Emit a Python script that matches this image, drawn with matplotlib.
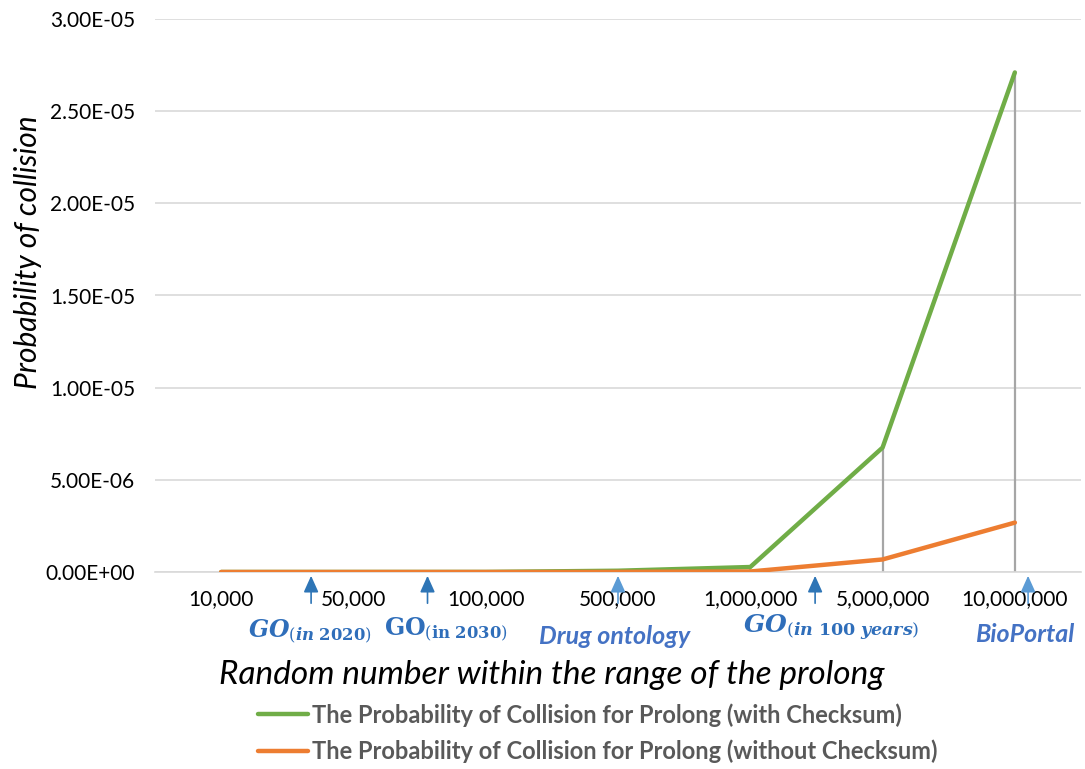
import matplotlib
matplotlib.use("Agg")
import matplotlib.pyplot as plt
from matplotlib.transforms import blended_transform_factory

categories = ["10,000", "50,000", "100,000", "500,000", "1,000,000", "5,000,000", "10,000,000"]
with_checksum = [2.7e-11, 6.8e-10, 2.7e-9, 6.8e-8, 2.7e-7, 6.75e-6, 2.71e-5]
without_checksum = [2.7e-12, 6.8e-11, 2.7e-10, 6.8e-9, 2.7e-8, 6.8e-7, 2.68e-6]
yticks = [0, 5e-6, 1e-5, 1.5e-5, 2e-5, 2.5e-5, 3e-5]
ytick_labels = ["0.00E+00", "5.00E-06", "1.00E-05", "1.50E-05", "2.00E-05", "2.50E-05", "3.00E-05"]

# annotation labels (x in category-index units)
ann_x = [0.68, 1.56, 3.0, 4.49, 6.1]
ann_labels = [
    r"$\mathbfit{GO}_{(\mathbfit{in}\ \mathbf{2020})}$",
    r"$\mathbf{GO}_{(\mathbf{in\ 2030})}$",
    "Drug ontology",
    r"$\mathbfit{GO}_{(\mathbfit{in}\ \mathbf{100}\ \mathbfit{years})}$",
    "BioPortal",
]

plt.rcParams["font.family"] = ["Lato", "DejaVu Sans"]
plt.rcParams["mathtext.fontset"] = "dejavuserif"

W, H = 1085, 769
fig = plt.figure(figsize=(W / 100, H / 100), dpi=100)
ax = fig.add_axes([155 / W, (H - 572) / H, 926 / W, 553 / H])

x = list(range(len(categories)))
# drop lines
for xi, a, b in zip(x, with_checksum, without_checksum):
    ax.plot([xi, xi], [0, max(a, b)], color="#A6A6A6", lw=1.6, zorder=1)

l1, = ax.plot(x, with_checksum, color="#70AD47", lw=3.2, solid_capstyle="round",
              label="The Probability of Collision for Prolong (with Checksum)", zorder=3)
l2, = ax.plot(x, without_checksum, color="#ED7D31", lw=3.2, solid_capstyle="round",
              label="The Probability of Collision for Prolong (without Checksum)", zorder=4)

ax.set_xlim(-0.5, len(categories) - 0.5)
ax.set_ylim(0, 3e-5)
ax.set_yticks(yticks)
ax.set_yticklabels(ytick_labels)
ax.set_xticks(x)
ax.set_xticklabels(categories)
ax.yaxis.grid(True, color="#D9D9D9", lw=1.2)
ax.set_axisbelow(True)
for s in ["top", "right", "left"]:
    ax.spines[s].set_visible(False)
ax.spines["bottom"].set_color("#D9D9D9")
ax.spines["bottom"].set_linewidth(1.2)
ax.tick_params(axis="both", length=0, labelsize=15, colors="#000000")
ax.tick_params(axis="x", pad=12)
ax.tick_params(axis="y", pad=14.4)

fig.text(28 / W, 1 - 252 / H, "Probability of collision", fontsize=21.5, style="italic",
         rotation=90, ha="center", va="center")
fig.text(552 / W, 1 - 675 / H, "Random number within the range of the prolong",
         fontsize=24, style="italic", ha="center", va="center")

# annotations
tr = blended_transform_factory(ax.transData, fig.transFigure)
colors_arrow = ["#2E75B6", "#2E75B6", "#5B9BD5", "#2E75B6", "#5B9BD5"]
colors_text = ["#2F6EBA", "#2F6EBA", "#4472C4", "#2F6EBA", "#4472C4"]
text_cx = [310, 446, 615, 831, 1025]
text_y = [632, 630, 636, 628, 634]
text_size = [17, 17, 18, 18, 18]
for xa, lab, ca, ct, cx, ty, fs in zip(ann_x, ann_labels, colors_arrow, colors_text, text_cx, text_y, text_size):
    ax.annotate("", xy=(xa, 1 - 573 / H), xytext=(xa, 1 - 606 / H), xycoords=tr, textcoords=tr,
                arrowprops=dict(arrowstyle="-|>,head_width=0.45,head_length=1.0", color=ca, lw=1.2),
                annotation_clip=False)
    if lab.startswith("$"):
        fig.text(cx / W, 1 - ty / H, lab, ha="center", va="center", fontsize=fs, color=ct)
    else:
        fig.text(cx / W, 1 - ty / H, lab, ha="center", va="center",
                 fontsize=fs, color=ct, style="italic", fontweight="bold")

fig.legend(handles=[l1, l2], loc="upper left", bbox_to_anchor=(258 / W, 1 - 703 / H),
           frameon=False, handlelength=2.1, handletextpad=0.2, borderpad=0, borderaxespad=0,
           labelspacing=0.55, prop={"weight": "bold", "size": 17},
           labelcolor="#595959")

fig.savefig("out.png", dpi=100)
